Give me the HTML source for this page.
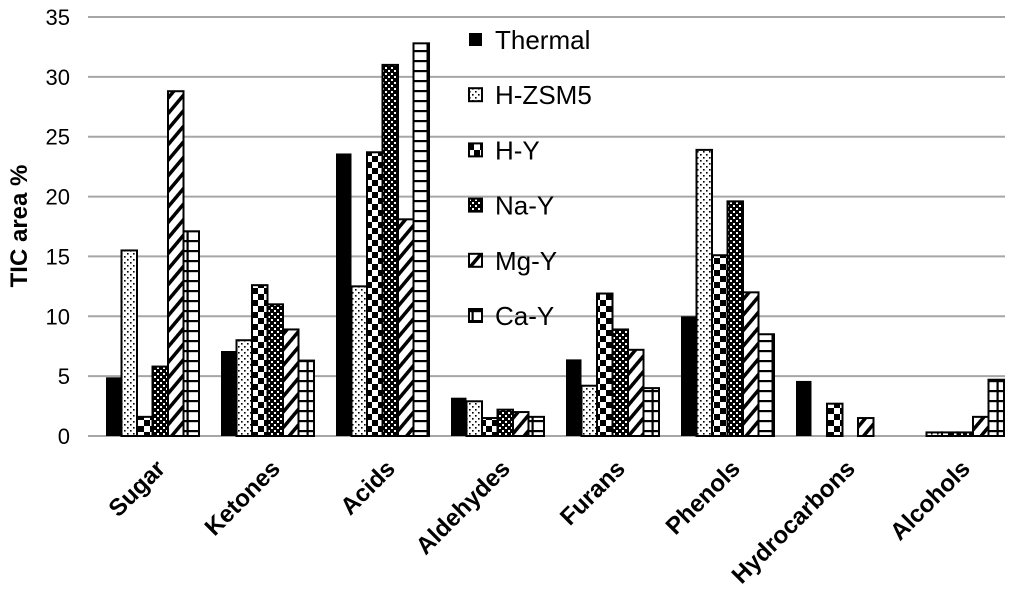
<!DOCTYPE html>
<html><head><meta charset="utf-8"><style>
html,body{margin:0;padding:0;background:#fff;}
svg{display:block;font-family:"Liberation Sans",sans-serif;}
</style></head><body>
<svg id="chart" width="1024" height="602" viewBox="0 0 1024 602">
<defs>
<pattern id="p-dots" width="6" height="6" patternUnits="userSpaceOnUse"><rect width="6" height="6" fill="#fff"/><rect x="1" y="1" width="1.6" height="1.6" fill="#000"/><rect x="4" y="4" width="1.6" height="1.6" fill="#000"/></pattern>
<pattern id="p-check" width="12" height="12" patternUnits="userSpaceOnUse"><rect width="12" height="12" fill="#fff"/><rect width="6" height="6" fill="#000"/><rect x="6" y="6" width="6" height="6" fill="#000"/></pattern>
<pattern id="p-nay" width="6" height="6" patternUnits="userSpaceOnUse"><rect width="6" height="6" fill="#000"/><rect x="1" y="1" width="2" height="2" fill="#fff"/><rect x="4" y="4" width="2" height="2" fill="#fff"/></pattern>
<pattern id="p-diag" width="10" height="10" patternUnits="userSpaceOnUse" patternTransform="rotate(40)"><rect width="10" height="10" fill="#fff"/><rect width="3.5" height="10" fill="#000"/></pattern>
<pattern id="p-brick" width="15" height="10" patternUnits="userSpaceOnUse"><rect width="15" height="10" fill="#fff"/><rect y="0" width="15" height="2.2" fill="#000"/><rect x="6.5" y="0" width="2.2" height="10" fill="#000"/></pattern>
</defs>
<g id="grid"></g><g id="bars"></g><g id="labels"></g><g id="legend"></g>
<text transform="translate(27,226) rotate(-90)" text-anchor="middle" font-weight="bold" font-size="24">TIC area %</text>
</svg>
<script>
const categories=["Sugar","Ketones","Acids","Aldehydes","Furans","Phenols","Hydrocarbons","Alcohols"];
const seriesNames=["Thermal","H-ZSM5","H-Y","Na-Y","Mg-Y","Ca-Y"];
const thermal=[4.9,7.1,23.6,3.2,6.4,10.0,4.6,0];
const hzsm5=[15.5,8.0,12.5,2.9,4.2,23.9,0,0.3];
const hy=[1.6,12.6,23.7,1.5,11.9,15.1,2.7,0.3];
const nay=[5.8,11.0,31.0,2.2,8.9,19.6,0,0.3];
const mgy=[28.8,8.9,18.1,2.0,7.2,12.0,1.5,1.6];
const cay=[17.1,6.3,32.8,1.6,4.0,8.5,0,4.7];
const yTicks=[0,5,10,15,20,25,30,35];
const series=[thermal,hzsm5,hy,nay,mgy,cay];
const fills=["#000","url(#p-dots)","url(#p-check)","url(#p-nay)","url(#p-diag)","url(#p-brick)"];
const NS="http://www.w3.org/2000/svg";
const X0=95,X1=1015,Y0=436,Y35=17;
const gw=(X1-X0)/categories.length,bw=15.5,pad=(gw-6*bw)/2;
const y=v=>Y0-(v/35)*(Y0-Y35);
const xb=(c,s)=>X0+c*gw+pad+s*bw;
function mk(t,a,p){const e=document.createElementNS(NS,t);for(const k in a)e.setAttribute(k,a[k]);p.appendChild(e);return e;}
const grid=document.getElementById('grid');
yTicks.forEach(t=>{
 const l=mk('line',{x1:88,x2:1005,y1:y(t),y2:y(t),stroke:'#a6a6a6','stroke-width':2},grid);
 
 
 const tx=mk('text',{x:70,y:y(t)+8,'text-anchor':'end','font-size':22},grid);
 tx.textContent=t;
 
 
});
const bars=document.getElementById('bars');
series.forEach((vals,s)=>{vals.forEach((v,c)=>{
 if(v<=0)return;
 const r=mk('rect',{x:xb(c,s),y:y(v),width:bw,height:Y0-y(v),fill:fills[s],stroke:'#000','stroke-width':s===0?0:2},bars);
 
 
});});
const labels=document.getElementById('labels');
categories.forEach((c,i)=>{
 const cx=X0+i*gw+gw/2+14;
 const t=mk('text',{transform:`translate(${cx},470) rotate(-45)`,'text-anchor':'end','font-size':24,'font-weight':'bold'},labels);
 t.textContent=c;
 
 
});
const lg=document.getElementById('legend');
seriesNames.forEach((n,i)=>{
 const yy=40+i*55.2;
 const b=mk('rect',{x:469,y:yy-7,width:13,height:13,fill:fills[i],stroke:'#000','stroke-width':i===0?0:2},lg);
 
 
 const t=mk('text',{x:495,y:yy+9,'font-size':26},lg);
 t.textContent=n;
 
 
});
</script>
</body></html>
